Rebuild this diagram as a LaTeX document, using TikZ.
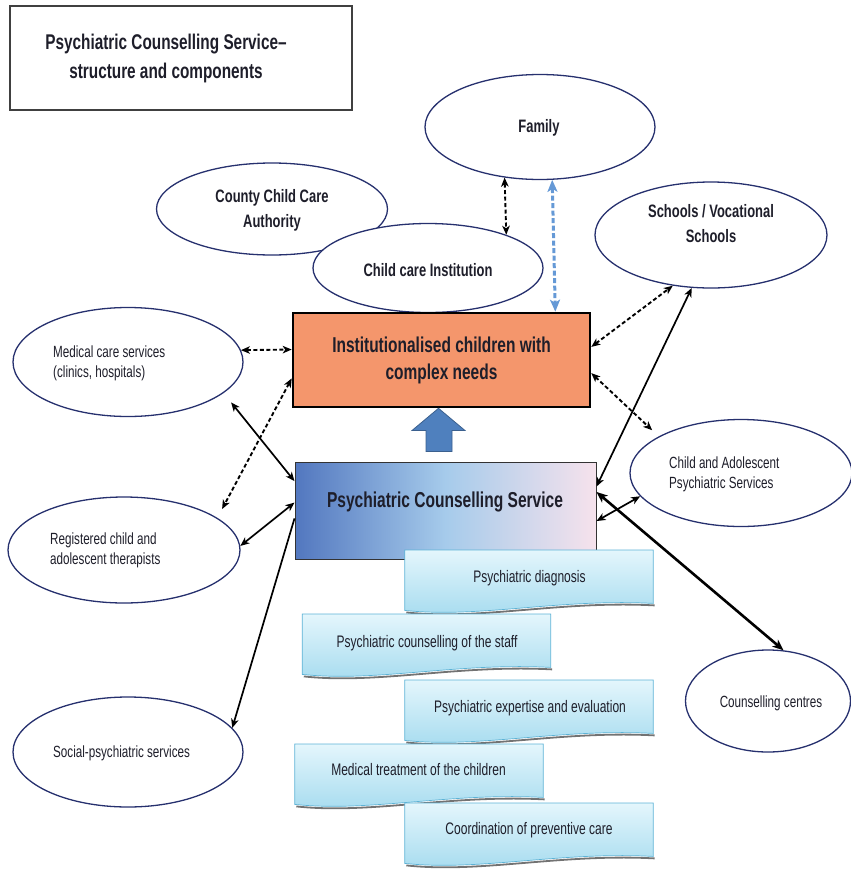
\documentclass[tikz,border=0pt]{standalone}
\usepackage{fontspec}
\setmainfont{Liberation Sans}
\newfontfamily\nar[FakeStretch=0.72]{Liberation Sans}
\usetikzlibrary{shapes.geometric,arrows.meta,calc}
\definecolor{ink}{HTML}{1E1E2A}
\definecolor{ellline}{HTML}{26306E}
\definecolor{orangefill}{HTML}{F4966C}
\definecolor{pcsL}{HTML}{5277BF}
\definecolor{pcsM}{HTML}{A6CBEB}
\definecolor{pcsR}{HTML}{F6E2EC}
\definecolor{wtop}{HTML}{E4F6FC}
\definecolor{wbot}{HTML}{A5DBEF}
\definecolor{wline}{HTML}{5DB3D6}
\definecolor{bluearr}{HTML}{4F80BE}
\definecolor{bluedash}{HTML}{6599D6}
\newcommand\wavybox[1]{%
  \draw[line width=1.8pt, draw=black!55]
    ($(#1.south east)+(1.5,-1)$)
    .. controls ($(#1.south west)!0.62!(#1.south east)+(1.5,-6)$) and ($(#1.south west)!0.3!(#1.south east)+(1.5,14)$)
    .. ($(#1.south west)+(1.5,6)$);
  \shade[top color=wtop, bottom color=wbot, draw=wline, line width=0.7pt]
    (#1.north west) -- (#1.north east) -- ($(#1.south east)+(0,-3)$)
    .. controls ($(#1.south west)!0.62!(#1.south east)+(0,-8)$) and ($(#1.south west)!0.3!(#1.south east)+(0,12)$)
    .. ($(#1.south west)+(0,4)$) -- cycle;
}
\begin{document}
\begin{tikzpicture}[x=1pt,y=-1pt,
  >={Stealth[length=9pt,width=7.5pt,inset=2.5pt]},
  ell/.style={ellipse, draw=ellline, line width=1.3pt, fill=white, inner sep=0pt},
  rtxt/.style={font={\nar\fontsize{16.2pt}{20pt}\selectfont}, text=ink, align=left, inner sep=0pt},
  btxt/.style={font={\nar\bfseries\fontsize{18pt}{25pt}\selectfont}, text=ink, align=center, inner sep=0pt},
  wtxt/.style={font={\nar\fontsize{16.7pt}{19pt}\selectfont}, text=ink, inner sep=0pt},
  wbox/.style={minimum width=248pt, minimum height=56pt, inner sep=0pt, anchor=north},
  dar/.style={line width=1.9pt, dash pattern=on 4pt off 2.5pt, <->},
  sar/.style={line width=1.7pt, <->},
  bdar/.style={line width=3pt, draw=bluedash, dash pattern=on 5pt off 2.5pt, <->, >={Stealth[length=12pt,width=10pt,inset=3pt]}},
]
\useasboundingbox (0,0) rectangle (851,871);

% title
\node[draw=black!75, line width=1.6pt, minimum width=342pt, minimum height=104pt, inner sep=0pt] (titlebox) at (181,58) {};
\node[font={\nar\bfseries\fontsize{21.3pt}{29pt}\selectfont}, text=ink, align=center, inner sep=0pt] (title) at (166,58) {Psychiatric Counselling Service–\\structure and components};

% ellipses
\node[ell, minimum width=231pt, minimum height=92pt] (county) at (272,209) {};
\node[ell, minimum width=230pt, minimum height=89pt] (cci) at (428,268) {};
\node[ell, minimum width=230pt, minimum height=105pt] (family) at (540,127) {};
\node[ell, minimum width=232pt, minimum height=106pt] (schools) at (711,235) {};
\node[ell, minimum width=230pt, minimum height=109pt] (medical) at (128,362) {};
\node[ell, minimum width=232pt, minimum height=106pt] (registered) at (124,550) {};
\node[ell, minimum width=230pt, minimum height=110pt] (social) at (128,752) {};
\node[ell, minimum width=222pt, minimum height=107pt] (caps) at (741,473) {};
\node[ell, minimum width=165pt, minimum height=102pt] (cc) at (768,701) {};

\node[btxt] (tcounty) at (272,210.5) {County Child Care\\Authority};
\node[btxt] (tcci) at (428,270) {Child care Institution};
\node[btxt] (tfamily) at (539,128) {Family};
\node[btxt] (tschools) at (711,224) {Schools / Vocational\\Schools};
\node[rtxt, anchor=west] (tmedical) at (53,363) {Medical care services\\(clinics, hospitals)};
\node[rtxt, anchor=west] (tregistered) at (50,550) {Registered child and\\adolescent therapists};
\node[rtxt, anchor=west] (tsocial) at (53,753) {Social-psychiatric services};
\node[rtxt, anchor=west] (tcaps) at (669,474) {Child and Adolescent\\Psychiatric Services};
\node[rtxt] (tcc) at (771,703) {Counselling centres};

% central boxes
\node[draw=black, line width=2.6pt, fill=orangefill, minimum width=297pt, minimum height=94pt, inner sep=0pt,
      align=center, font={\nar\bfseries\fontsize{21.5pt}{27pt}\selectfont}, text=ink] (orange) at (441.5,360) {Institutionalised children with\\complex needs};
\node[draw=black!80, line width=1pt, left color=pcsL, right color=pcsR, middle color=pcsM, minimum width=301pt, minimum height=97pt, inner sep=0pt] (pcs) at (445.5,510.5) {};
\node[font={\nar\bfseries\fontsize{21.6pt}{24pt}\selectfont}, text=ink, inner sep=0pt] (tpcs) at (445,502) {Psychiatric Counselling Service};

% block arrow PCS -> orange
\fill[bluearr, draw=bluearr!75!black, line width=0.8pt]
  ($(pcs.north)+(-19.5,-10)$) -- ($(pcs.north)+(-19.5,-31)$) -- ($(pcs.north)+(-33.5,-31)$)
  -- ($(orange.south)+(-3,0)$)
  -- ($(pcs.north)+(19.5,-31)$) -- ($(pcs.north)+(6.5,-31)$) -- ($(pcs.north)+(6.5,-10)$) -- cycle;

% connectors
\draw[dar] (family.235) -- (cci.23);
\draw[bdar] (family.283) -- (orange.23);
\draw[dar] (medical.6) -- (orange.176);
\draw[dar, shorten >=10pt] (orange.187) -- (registered.19);
\draw[sar, shorten <=12pt] (medical.342) -- (pcs.169.5);
\draw[sar] (registered.2) -- (pcs.177);
\draw[line width=1.7pt, ->] (pcs.183) -- (social.13);
\draw[dar] (orange.5) -- (schools.233);
\draw[sar] (schools.250) -- (pcs.9.4);
\draw[dar, shorten >=9pt] (orange.355) -- (caps.156);
\draw[sar] (pcs.356) -- (caps.193);
\draw[line width=2.6pt, <->, >={Stealth[length=11pt,width=9pt,inset=3pt]}] (pcs.7.6) -- (cc.73);

% wavy component boxes
\node[wbox] (w1) at (529,550) {};
\wavybox{w1}
\node[wtxt] (l1) at (529.5,578) {Psychiatric diagnosis};

\node[wbox] (w2) at (426.5,614) {};
\wavybox{w2}
\node[wtxt] (l2) at (427,643) {Psychiatric counselling of the staff};

\node[wbox] (w3) at (529,680) {};
\wavybox{w3}
\node[wtxt] (l3) at (530,708) {Psychiatric expertise and evaluation};

\node[wbox] (w4) at (419,744) {};
\wavybox{w4}
\node[wtxt] (l4) at (418.5,770) {Medical treatment of the children};

\node[wbox] (w5) at (529,803) {};
\wavybox{w5}
\node[wtxt] (l5) at (529,830) {Coordination of preventive care};
\end{tikzpicture}
\end{document}
